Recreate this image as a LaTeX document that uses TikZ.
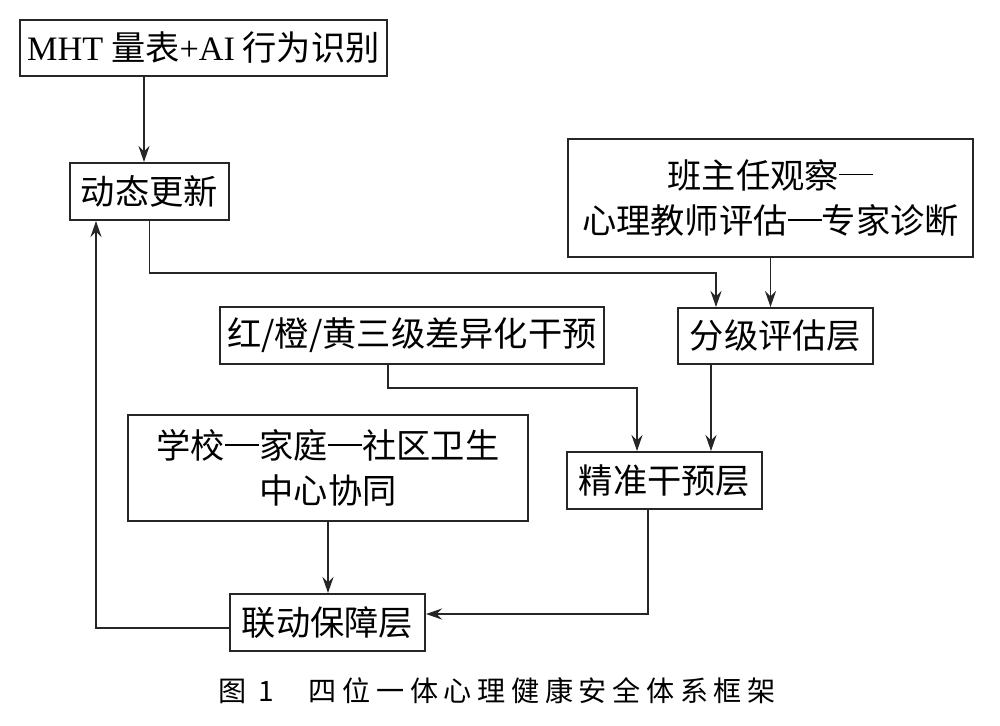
\documentclass[tikz,border=0pt]{standalone}
\usepackage{fontspec}
\setmainfont{Liberation Serif}
\newfontfamily\cjk{Noto Sans CJK SC}
\newfontfamily\lat{Liberation Serif}
\newfontfamily\capfont[LetterSpace=20]{Noto Sans CJK SC}
\newcommand\cdash{\makebox[1em]{\rule[0.37em]{1em}{0.055em}}}
\usetikzlibrary{arrows.meta,calc}
\begin{document}
\begin{tikzpicture}[x=0.02cm,y=-0.02cm,
  box/.style={draw=black!85,line width=1.1pt,inner sep=0pt,align=center,
    font=\cjk\fontsize{19.5}{26}\selectfont},
  arr/.style={draw=black!85,line width=1.1pt,-{Stealth[length=0.32cm,width=0.22cm]}}]
\useasboundingbox (0,0) rectangle (1000,725);
\node[box,minimum width=367*0.02cm,minimum height=56*0.02cm] (mht) at (203.5,48) {{\lat MHT} 量表{\lat +AI} 行为识别};
\node[box,minimum width=159*0.02cm,minimum height=57*0.02cm] (dyn) at (149.5,191.5) {动态更新};
\node[box,minimum width=405*0.02cm,minimum height=118*0.02cm] (obs) at (770.5,198) {班主任观察\cdash\\心理教师评估\cdash 专家诊断};
\node[box,minimum width=195*0.02cm,minimum height=56*0.02cm] (grade) at (775.5,336) {分级评估层};
\node[box,minimum width=384*0.02cm,minimum height=57*0.02cm] (red) at (412,335.5) {红/橙/黄三级差异化干预};
\node[box,minimum width=400*0.02cm,minimum height=106*0.02cm] (school) at (328,468) {学校\cdash 家庭\cdash 社区卫生\\中心协同};
\node[box,minimum width=195*0.02cm,minimum height=57*0.02cm] (prec) at (664.5,480.5) {精准干预层};
\node[box,minimum width=195*0.02cm,minimum height=57*0.02cm] (link) at (327.5,622.5) {联动保障层};
\node[font=\capfont\fontsize{16}{20}\selectfont,inner sep=0pt] (cap) at (497,691) {图 1\hspace{0.7cm}四位一体心理健康安全体系框架};
% connectors
\draw[arr] (mht.south -| 144,0) -- (dyn.north -| 144,0);
\draw[arr] (dyn.south) -- (dyn.south |- 0,273) -| ($(grade.north)+(-59.5,0)$);
\draw[arr] (obs.south) -- (obs.south |- grade.north);
\coordinate (rs) at ($(red.south)+(-24,0)$);
\draw[arr] (rs) -- (rs |- 0,388) -| ($(prec.north)+(-27.5,0)$);
\coordinate (gs) at ($(grade.south)+(-64.5,0)$);
\draw[arr] (gs) -- (gs |- prec.north);
\draw[arr] (school.south) -- (school.south |- link.north);
\draw[arr] ($(prec.south)+(-16.5,0)$) |- ($(link.east)+(0,-8.5)$);
\draw[arr] ($(link.west)+(0,5.5)$) -| ($(dyn.south)+(-53.5,0)$);
\end{tikzpicture}
\end{document}
